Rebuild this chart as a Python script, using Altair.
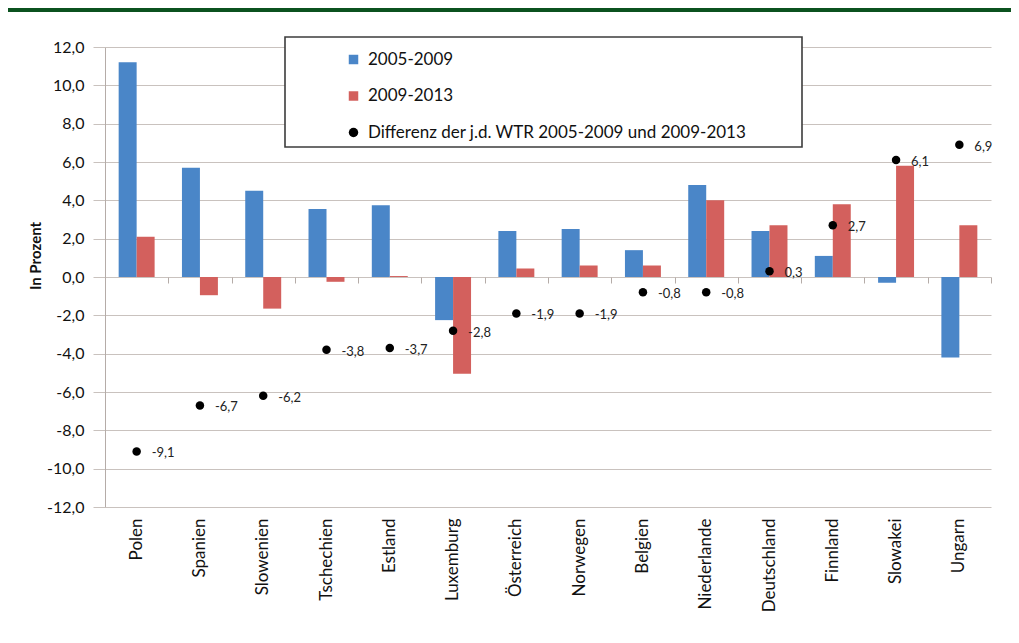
import altair as alt
import pandas as pd

countries = ["Polen", "Spanien", "Slowenien", "Tschechien", "Estland", "Luxemburg",
             "Österreich", "Norwegen", "Belgien", "Niederlande", "Deutschland",
             "Finnland", "Slowakei", "Ungarn"]
wtr_2005_2009 = [11.2, 5.7, 4.5, 3.55, 3.75, -2.25, 2.4, 2.5, 1.4, 4.8, 2.4, 1.1, -0.3, -4.2]
wtr_2009_2013 = [2.1, -0.95, -1.65, -0.25, 0.05, -5.05, 0.45, 0.6, 0.6, 4.0, 2.7, 3.8, 5.8, 2.7]
differenz = [-9.1, -6.7, -6.2, -3.8, -3.7, -2.8, -1.9, -1.9, -0.8, -0.8, 0.3, 2.7, 6.1, 6.9]
series_names = ["2005-2009", "2009-2013", "Differenz der j.d. WTR 2005-2009 und 2009-2013"]
series_colors = ["#4a86c8", "#d3605d", "#000000"]
series_shapes = ["square", "square", "circle"]
y_ticks = [-12, -10, -8, -6, -4, -2, 0, 2, 4, 6, 8, 10, 12]
y_title = "In Prozent"

FONT = "Lato"
GREEN = "#0b521f"
GRID = "#c9c2be"

bars_df = pd.DataFrame(
    [{"country": c, "series": series_names[0], "value": v} for c, v in zip(countries, wtr_2005_2009)]
    + [{"country": c, "series": series_names[1], "value": v} for c, v in zip(countries, wtr_2009_2013)]
)
diff_df = pd.DataFrame({
    "country": countries,
    "series": series_names[2],
    "value": differenz,
    "label": [f"{v:.1f}".replace(".", ",") for v in differenz],
})

color_scale = alt.Scale(domain=series_names, range=series_colors)
shape_scale = alt.Scale(domain=series_names, range=series_shapes)
x_scale = alt.Scale(paddingInner=0, paddingOuter=0)
y_scale = alt.Scale(domain=[-12, 12], nice=False, zero=False)

legend = alt.Legend(
    title=None, orient="none", legendX=240, legendY=4,
    labelFont=FONT, labelFontSize=17, labelColor="#111111",
    symbolSize=90, symbolStrokeWidth=0, rowPadding=18.5, labelOffset=6,
    padding=0, labelLimit=700,
)

y_axis = alt.Axis(
    values=y_ticks, labelOverlap=False,
    labelExpr="replace(replace(format(datum.value, '.1f'), '.', ','), '\u2212', '-')",
    title=None,
    labelFont=FONT, labelFontSize=16, labelColor="#111111", labelPadding=9,
    tickSize=12, tickColor=GRID, domainColor="#b5aca8",
    gridColor=GRID, gridWidth=1.2,
)

bars = alt.Chart(bars_df).mark_bar().encode(
    x=alt.X("country:N", sort=countries, scale=x_scale,
            axis=alt.Axis(orient="bottom", title=None, labelAngle=-90, labelFont=FONT,
                          labelFontSize=17, labelColor="#111111", labelPadding=11,
                          ticks=False, domain=False, grid=False)),
    xOffset=alt.XOffset("series:N", sort=series_names[:2],
                        scale=alt.Scale(domain=series_names[:2], paddingOuter=0.76, paddingInner=0)),
    y=alt.Y("value:Q", scale=y_scale, axis=y_axis),
    color=alt.Color("series:N", scale=color_scale, legend=legend),
)

points = alt.Chart(diff_df).mark_point(filled=True, size=72, opacity=1).encode(
    x=alt.X("country:N", sort=countries, scale=x_scale,
            axis=alt.Axis(orient="bottom", offset=-230, labels=False, title=None,
                          domain=False, ticks=True, tickBand="extent", tickSize=6,
                          tickColor="#b5aca8", grid=False)),
    y=alt.Y("value:Q", scale=y_scale, axis=y_axis),
    color=alt.Color("series:N", scale=color_scale, legend=legend),
    shape=alt.Shape("series:N", scale=shape_scale, legend=legend),
)

labels = alt.Chart(diff_df).mark_text(
    align="left", baseline="middle", dx=15, dy=2, font=FONT, fontSize=13, color="#222222"
).encode(
    x=alt.X("country:N", sort=countries, scale=x_scale, axis=None),
    y=alt.Y("value:Q", scale=y_scale, axis=y_axis),
    text="label:N",
)

one = alt.Data(values=[{"a": 1}])
title_df = pd.DataFrame({"t": [y_title]})
y_title_mark = alt.Chart(title_df).mark_text(
    angle=270, align="center", baseline="middle", font=FONT, fontSize=15,
    fontWeight="bold", color="#111111"
).encode(x=alt.value(-69), y=alt.value(209), text="t:N")

legend_box = alt.Chart(one).mark_rect(fill="white", stroke="#3c3c3c", strokeWidth=1.6).encode(
    x=alt.value(180), x2=alt.value(697), y=alt.value(-10), y2=alt.value(100)
)
top_band = alt.Chart(one).mark_rule(color=GREEN, strokeWidth=4).encode(
    x=alt.value(-97), x2=alt.value(906), y=alt.value(-37)
)

chart = alt.layer(bars, legend_box, points, labels, y_title_mark, top_band).resolve_axis(
    x="independent"
).properties(
    width=886, height=460,
    autosize=alt.AutoSizeParams(type="none"),
    padding={"left": 97, "top": 39, "right": 20, "bottom": 128},
    background="white",
).configure_view(stroke=None).configure_axisY(
    labelOverlap=False, labelFont=FONT, labelFontSize=16, labelColor="#111111",
)

chart.save("out.html", embed_options={"renderer": "svg", "actions": False})
